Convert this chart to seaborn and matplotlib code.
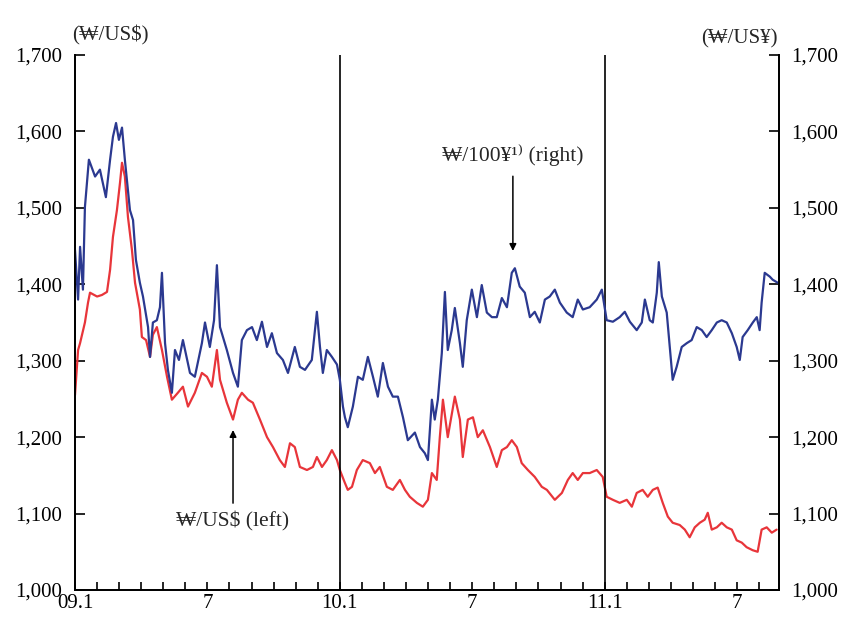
import numpy as np
import pandas as pd
import matplotlib
matplotlib.use("Agg")
import matplotlib.pyplot as plt
import seaborn as sns

# ---- data (months since Jan 2009, values) ----
yen_month = [0, 0.14, 0.23, 0.36, 0.45, 0.63, 0.91, 1.13, 1.40, 1.59, 1.72, 1.86, 1.99, 2.13, 2.26,
             2.49, 2.63, 2.76, 2.94, 3.08, 3.31, 3.40, 3.53, 3.71, 3.85, 3.94, 4.08, 4.21, 4.39, 4.53,
             4.71, 4.89, 5.21, 5.43, 5.75, 5.89, 6.11, 6.30, 6.43, 6.57, 6.88, 7.16, 7.38, 7.56, 7.79,
             8.02, 8.24, 8.47, 8.70, 8.92, 9.15, 9.42, 9.65, 9.96, 10.19, 10.42, 10.73, 10.96, 11.10,
             11.23, 11.41, 11.64, 11.87, 12.00, 12.14, 12.23, 12.36, 12.59, 12.82, 13.04, 13.27, 13.50,
             13.72, 13.95, 14.18, 14.40, 14.63, 14.86, 15.08, 15.40, 15.63, 15.85, 15.99, 16.17, 16.30,
             16.44, 16.62, 16.76, 16.89, 17.07, 17.21, 17.44, 17.57, 17.75, 17.98, 18.21, 18.43, 18.66,
             18.89, 19.11, 19.34, 19.57, 19.79, 19.93, 20.15, 20.38, 20.61, 20.83, 21.06, 21.29, 21.51,
             21.74, 21.97, 22.28, 22.55, 22.78, 23.01, 23.32, 23.64, 23.87, 24.09, 24.37, 24.68, 24.91,
             25.14, 25.45, 25.68, 25.82, 26.04, 26.18, 26.36, 26.45, 26.59, 26.81, 26.95, 27.08, 27.26,
             27.49, 27.72, 27.94, 28.17, 28.40, 28.62, 28.85, 29.08, 29.30, 29.53, 29.76, 29.98, 30.12,
             30.25, 30.48, 30.71, 30.89, 31.02, 31.11, 31.25, 31.48, 31.61, 31.84]
yen_value = [1445, 1380, 1449, 1393, 1501, 1563, 1541, 1550, 1514, 1563, 1593, 1611, 1589, 1605, 1563,
             1497, 1484, 1432, 1402, 1384, 1344, 1305, 1350, 1353, 1370, 1415, 1323, 1288, 1258, 1314,
             1301, 1327, 1284, 1279, 1323, 1350, 1318, 1353, 1425, 1344, 1314, 1284, 1266, 1327, 1340,
             1344, 1327, 1351, 1318, 1336, 1310, 1301, 1284, 1318, 1292, 1288, 1301, 1364, 1318,
             1284, 1314, 1305, 1295, 1275, 1240, 1226, 1213, 1240, 1279, 1275, 1305, 1279,
             1253, 1297, 1266, 1253, 1253, 1226, 1196, 1206, 1187, 1179, 1170, 1249, 1223,
             1249, 1310, 1390, 1314, 1340, 1369, 1323, 1292, 1353, 1393, 1357, 1399, 1363,
             1357, 1357, 1382, 1370, 1415, 1421, 1397, 1389, 1357, 1364, 1350, 1380, 1384,
             1393, 1376, 1363, 1357, 1380, 1367, 1370, 1380, 1393, 1353, 1351, 1357, 1364,
             1351, 1340, 1350, 1380, 1353, 1350, 1389, 1429, 1384, 1363, 1318, 1275, 1292,
             1318, 1323, 1327, 1344, 1340, 1331, 1340, 1350, 1353, 1350, 1336, 1318, 1301,
             1331, 1340, 1350, 1357, 1340, 1376, 1415, 1410, 1406, 1402]

usd_month = [0, 0.14, 0.23, 0.45, 0.59, 0.68, 1.00, 1.22, 1.45, 1.59, 1.72, 1.90, 2.04, 2.13, 2.26,
             2.40, 2.58, 2.72, 2.94, 3.03, 3.22, 3.40, 3.53, 3.71, 3.94, 4.17, 4.39, 4.66, 4.89, 5.12,
             5.43, 5.75, 5.98, 6.20, 6.43, 6.57, 6.88, 7.16, 7.38, 7.56, 7.84, 8.06, 8.38, 8.70, 8.97,
             9.28, 9.51, 9.74, 9.96, 10.19, 10.51, 10.78, 10.96, 11.19, 11.41, 11.64, 11.87, 12.00,
             12.23, 12.36, 12.55, 12.77, 13.04, 13.36, 13.59, 13.81, 14.13, 14.40, 14.72, 14.95, 15.17,
             15.49, 15.76, 15.99, 16.17, 16.39, 16.53, 16.67, 16.89, 17.21, 17.44, 17.57, 17.80, 18.03,
             18.25, 18.48, 18.80, 19.11, 19.34, 19.57, 19.79, 20.02, 20.24, 20.52, 20.83, 21.15, 21.38,
             21.74, 22.06, 22.33, 22.55, 22.78, 23.01, 23.32, 23.64, 23.91, 24.09, 24.37, 24.68, 25.00,
             25.23, 25.45, 25.72, 25.95, 26.18, 26.40, 26.63, 26.86, 27.08, 27.40, 27.63, 27.85, 28.08,
             28.31, 28.53, 28.67, 28.85, 29.08, 29.30, 29.53, 29.76, 29.98, 30.21, 30.43, 30.71, 30.93,
             31.11, 31.34, 31.57, 31.79]
usd_value = [1255, 1314, 1323, 1350, 1376, 1389, 1384, 1386, 1390, 1419, 1462, 1497, 1533, 1559, 1541,
             1488, 1445, 1402, 1367, 1331, 1327, 1305, 1334, 1344, 1314, 1279, 1249, 1258, 1266, 1240,
             1258, 1284, 1279, 1266, 1314, 1275, 1245, 1223, 1249, 1258, 1249, 1245, 1223, 1200, 1187,
             1170, 1161, 1192, 1187, 1161, 1157, 1161, 1174, 1161, 1170, 1183, 1170, 1157,
             1140, 1131, 1135, 1157, 1170, 1166, 1153, 1161, 1135, 1131, 1144, 1131, 1122,
             1114, 1109, 1118, 1153, 1144, 1200, 1249, 1200, 1253, 1223, 1174, 1223, 1226,
             1200, 1209, 1187, 1161, 1183, 1187, 1196, 1187, 1166, 1157, 1148, 1135, 1131,
             1118, 1127, 1144, 1153, 1144, 1153, 1153, 1157, 1148, 1122, 1118, 1114, 1118,
             1109, 1127, 1131, 1122, 1131, 1134, 1114, 1096, 1088, 1085, 1079, 1069, 1082,
             1088, 1092, 1101, 1079, 1082, 1088, 1082, 1079, 1065, 1062, 1056, 1052, 1050,
             1079, 1082, 1075, 1079]

tick_pos = [0, 6, 12, 18, 24, 30]
tick_labels = ["09.1", "7", "10.1", "7", "11.1", "7"]
y_ticks = [1000, 1100, 1200, 1300, 1400, 1500, 1600, 1700]
y_tick_labels = ["1,000", "1,100", "1,200", "1,300", "1,400", "1,500", "1,600", "1,700"]

sns.set_theme(style="white")
serif = ["Liberation Serif", "DejaVu Serif"]
plt.rcParams["font.family"] = serif

df_usd = pd.DataFrame({"month": usd_month, "value": usd_value})
df_yen = pd.DataFrame({"month": yen_month, "value": yen_value})

fig = plt.figure(figsize=(8.58, 6.25), dpi=100)
ax = fig.add_axes([0.0874, 0.056, 0.8206, 0.856])
ax2 = ax.twinx()

sns.lineplot(data=df_usd, x="month", y="value", ax=ax, color="#e8353a", linewidth=1.6)
sns.lineplot(data=df_yen, x="month", y="value", ax=ax2, color="#2b3990", linewidth=1.6)

for a in (ax, ax2):
    a.set_ylim(1000, 1700)
    a.set_xlim(0, 31.9)
    a.set_xlabel("")
    a.set_ylabel("")
    a.spines["top"].set_visible(False)
    for s in ("left", "right", "bottom"):
        a.spines[s].set_color("black")
        a.spines[s].set_linewidth(1.3)

ax.set_yticks(y_ticks)
ax.set_yticklabels(y_tick_labels)
ax2.set_yticks(y_ticks)
ax2.set_yticklabels(y_tick_labels)
ax.tick_params(axis="y", left=True, direction="in", length=7, width=1.2, labelsize=15, pad=9,
               colors="black")
ax2.tick_params(axis="y", right=True, direction="in", length=7, width=1.2, labelsize=15, pad=9,
                colors="black")

ax.set_xticks(tick_pos)
ax.set_xticklabels(tick_labels)
ax.set_xticks(np.arange(0, 32, 1), minor=True)
ax.tick_params(axis="x", which="both", bottom=True, direction="in", length=6, width=1.2,
               labelsize=15, pad=3, colors="black")

for m in (12, 24):
    ax.axvline(m, color="black", linewidth=1.2)

ax.text(-0.15, 1712, "(₩/US$)", fontsize=15, ha="left", va="bottom", family=serif, clip_on=False)
ax2.text(31.85, 1708, "(₩/US¥)", fontsize=15, ha="right", va="bottom", family=serif, clip_on=False)

ax2.annotate("", xy=(19.84, 1440), xytext=(19.84, 1545),
             arrowprops=dict(arrowstyle="-|>", color="black", lw=1.1, mutation_scale=10))
ax2.text(19.84, 1555, "₩/100¥¹⁾ (right)", fontsize=15.5, ha="center", va="bottom", family=serif)

ax.annotate("", xy=(7.16, 1213), xytext=(7.16, 1110),
            arrowprops=dict(arrowstyle="-|>", color="black", lw=1.1, mutation_scale=10))
ax.text(7.16, 1090, "₩/US$ (left)", fontsize=15.5, ha="center", va="center", family=serif)

fig.savefig("out.png", dpi=100)
